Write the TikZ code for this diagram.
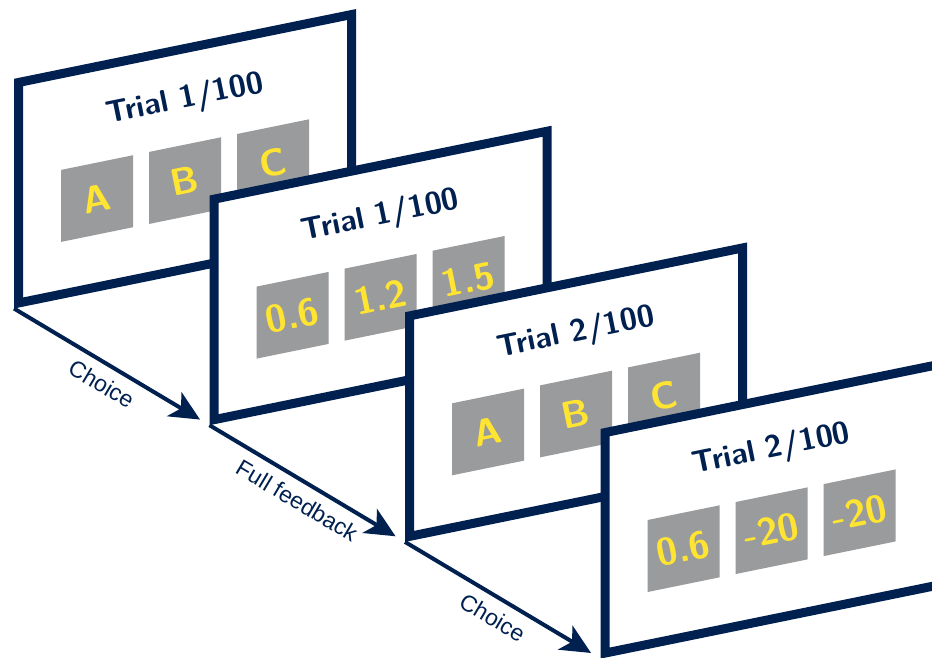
\documentclass[tikz,border=0pt]{standalone}
\usepackage{fontspec}
\newfontfamily\labelfont{Liberation Sans}
\usetikzlibrary{arrows.meta}
\definecolor{navy}{RGB}{0,32,80}
\definecolor{boxgray}{RGB}{154,155,157}
\definecolor{tyellow}{RGB}{255,228,50}
\newcommand\trialscreen[7]{%
\begin{scope}[shift={(#2,#3)}, cm={1,0.204,0,1,(0,0)}]
\draw[screen] (0,0) rectangle (333,220.5);
\node[titletext] (#1t) at (166.5,169) {#4};
\node[optbox] (#1a) at (78.5,88.4) {};
\node[optbox] (#1b) at (166.5,88.4) {};
\node[optbox] (#1c) at (254.5,88.4) {};
\node[opttext] at (#1a.center) {#5};
\node[opttext] at (#1b.center) {#6};
\node[opttext] at (#1c.center) {#7};
\coordinate (#1) at (-4.5,-4.6);
\end{scope}}
\begin{document}
\begin{tikzpicture}[x=1pt,y=1pt,
  screen/.style={draw=navy, line width=9pt, fill=white},
  titletext/.style={text=navy, font=\sffamily\bfseries\fontsize{31}{34}\selectfont, rotate=11.53, inner sep=0pt},
  optbox/.style={fill=boxgray, minimum width=72pt, minimum height=72pt, inner sep=0pt, transform shape},
  opttext/.style={text=tyellow, font=\sffamily\bfseries\fontsize{38}{40}\selectfont, rotate=11.53, inner sep=0pt},
  flow/.style={draw=navy, line width=4pt, -{Stealth[length=30pt,width=28pt,inset=8pt]}, shorten >=11pt},
  flowlabel/.style={text=navy, font=\labelfont\fontsize{23}{26}\selectfont, sloped, below=9.5pt, inner sep=0pt, pos=0.5}
]
\useasboundingbox (0,0) rectangle (932,658);
\clip (0,0) rectangle (932,658);
\trialscreen{s1}{18.5}{355}{Trial 1/100}{A}{B}{C}
\trialscreen{s2}{214}{238.3}{Trial 1/100}{0.6}{1.2}{1.5}
\trialscreen{s3}{409.5}{121.6}{Trial 2/100}{A}{B}{C}
\trialscreen{s4}{605}{4.9}{Trial 2/100}{0.6}{-20}{-20}
\draw[flow] (s1) -- node[flowlabel]{Choice} (s2);
\draw[flow] (s2) -- node[flowlabel]{Full feedback} (s3);
\draw[flow] (s3) -- node[flowlabel]{Choice} (s4);
\end{tikzpicture}
\end{document}
